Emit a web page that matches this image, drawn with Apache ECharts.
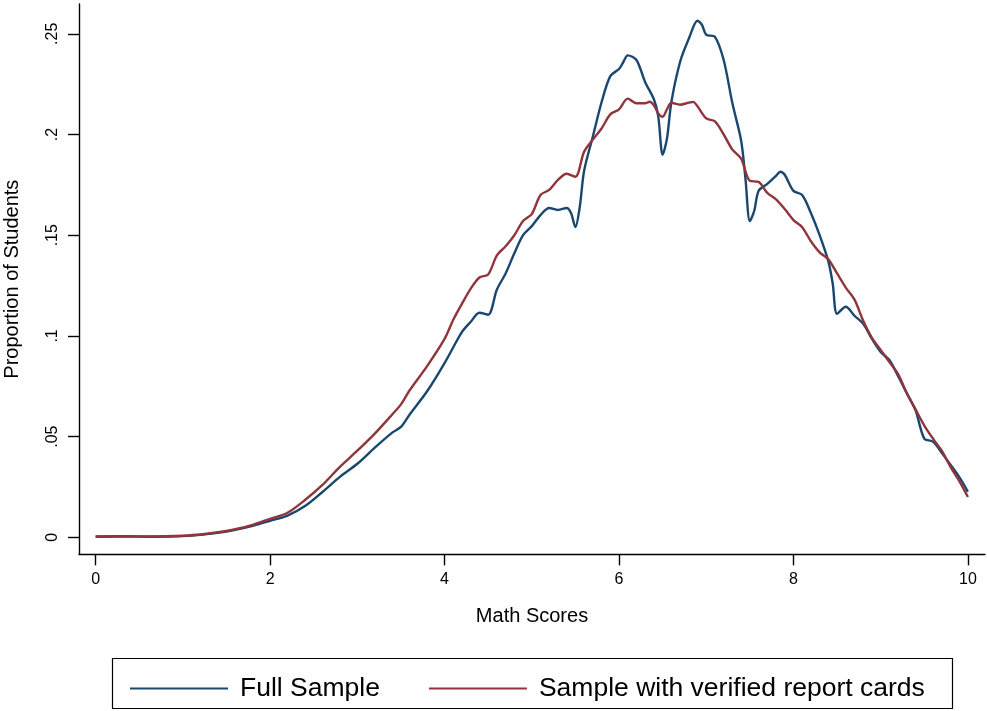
<!DOCTYPE html>
<html><head><meta charset="utf-8">
<script src="https://cdn.jsdelivr.net/npm/echarts@6/dist/echarts.min.js"></script>
<style>html,body{margin:0;padding:0;background:#fff}#c{width:987px;height:711px}</style>
</head><body><div id="c"></div>
<script>
const xTicks = [0, 2, 4, 6, 8, 10];
const yTicks = [0, 0.05, 0.1, 0.15, 0.2, 0.25];
const yTickLabels = ['0', '.05', '.1', '.15', '.2', '.25'];

const fullX = [0,0.2,0.4,0.6,0.8,1.0,1.2,1.4,1.6,1.8,2.0,2.2,2.4,2.6,2.8,3.0,3.2,3.4,3.5,3.6,3.8,4.0,4.2,4.3,4.4,4.5,4.6,4.7,4.8,4.9,5.0,5.1,5.2,5.3,5.4,5.45,5.5,5.55,5.6,5.7,5.8,5.9,6.0,6.05,6.1,6.2,6.3,6.4,6.45,6.5,6.55,6.6,6.7,6.8,6.9,6.95,7.0,7.1,7.2,7.3,7.4,7.45,7.5,7.55,7.6,7.7,7.8,7.85,7.9,8.0,8.1,8.2,8.3,8.4,8.45,8.5,8.6,8.7,8.8,8.9,9.0,9.1,9.2,9.3,9.4,9.5,9.6,9.7,9.8,9.9,10.0];
const fullY = [0.0003,0.0004,0.0004,0.0003,0.0004,0.0006,0.0012,0.0022,0.0037,0.0057,0.0082,0.0108,0.0155,0.0225,0.030,0.0365,0.0445,0.052,0.0548,0.061,0.0725,0.0865,0.102,0.107,0.1115,0.1105,0.123,0.131,0.141,0.150,0.1545,0.160,0.1635,0.1625,0.1635,0.161,0.154,0.164,0.182,0.199,0.216,0.229,0.2325,0.236,0.2393,0.237,0.226,0.2175,0.209,0.190,0.198,0.216,0.236,0.2475,0.2565,0.2545,0.2495,0.2485,0.237,0.2155,0.197,0.178,0.157,0.162,0.172,0.1755,0.1795,0.1815,0.180,0.172,0.170,0.161,0.150,0.137,0.126,0.111,0.1145,0.110,0.106,0.0985,0.092,0.088,0.080,0.0715,0.063,0.049,0.0475,0.042,0.036,0.030,0.0226];

const verX = [0,0.2,0.4,0.6,0.8,1.0,1.2,1.4,1.6,1.8,2.0,2.2,2.4,2.6,2.8,3.0,3.2,3.4,3.5,3.6,3.8,4.0,4.1,4.2,4.3,4.4,4.5,4.6,4.7,4.8,4.9,5.0,5.1,5.2,5.3,5.4,5.5,5.6,5.7,5.8,5.9,6.0,6.1,6.2,6.3,6.35,6.4,6.45,6.5,6.55,6.6,6.7,6.8,6.85,6.9,7.0,7.1,7.2,7.3,7.4,7.5,7.6,7.7,7.8,7.9,8.0,8.1,8.2,8.3,8.4,8.5,8.6,8.7,8.8,8.9,9.0,9.1,9.2,9.3,9.4,9.5,9.6,9.7,9.8,9.9,10.0];
const verY = [0.0004,0.0005,0.0005,0.0004,0.0005,0.0008,0.0014,0.0025,0.0040,0.0062,0.0092,0.0122,0.0185,0.026,0.035,0.043,0.0515,0.061,0.066,0.073,0.085,0.0985,0.108,0.116,0.1235,0.129,0.1305,0.140,0.1445,0.150,0.157,0.1605,0.170,0.1725,0.1775,0.1805,0.179,0.1915,0.1975,0.203,0.210,0.2125,0.2178,0.2155,0.2155,0.2163,0.2145,0.2105,0.2088,0.2125,0.2158,0.2148,0.2158,0.2162,0.214,0.208,0.2065,0.200,0.1925,0.188,0.177,0.1765,0.171,0.1678,0.163,0.1575,0.154,0.147,0.1415,0.138,0.131,0.124,0.118,0.1075,0.099,0.093,0.087,0.081,0.0715,0.0635,0.0555,0.049,0.043,0.035,0.028,0.020];

const seriesNames = ['Full Sample', 'Sample with verified report cards'];
const colors = ['#1a476f', '#90353b'];

const zip = (xs, ys) => xs.map((x, i) => [x, ys[i]]);
const font = 'Liberation Sans, Arial, Helvetica, sans-serif';

const chart = echarts.init(document.getElementById('c'), null, {renderer: 'canvas'});
chart.setOption({
  animation: false,
  backgroundColor: '#fff',
  textStyle: {fontFamily: font},
  grid: {left: 79, top: 4, width: 906, height: 550.3, containLabel: false, outerBoundsMode: 'none'},
  xAxis: {
    type: 'value', min: -0.191, max: 10.196,
    name: 'Math Scores', nameLocation: 'middle', nameGap: 52,
    nameTextStyle: {fontSize: 20, color: '#000', fontFamily: font},
    axisLine: {show: true, onZero: false, lineStyle: {color: '#000', width: 1.4}},
    axisTick: {show: true, length: 11, lineStyle: {color: '#000', width: 1.4}, customValues: xTicks},
    axisLabel: {fontSize: 16, color: '#000', margin: 17, customValues: xTicks, fontFamily: font},
    splitLine: {show: false}
  },
  yAxis: {
    type: 'value', min: -0.00844, max: 0.2648,
    name: 'Proportion of Students', nameLocation: 'middle', nameGap: 57,
    nameTextStyle: {fontSize: 20, color: '#000', fontFamily: font},
    axisLine: {show: true, onZero: false, lineStyle: {color: '#000', width: 1.4}},
    axisTick: {show: true, length: 11, lineStyle: {color: '#000', width: 1.4}, customValues: yTicks},
    axisLabel: {fontSize: 16, color: '#000', margin: 18, rotate: 90, customValues: yTicks, fontFamily: font,
      formatter: v => { const i = yTicks.findIndex(t => Math.abs(t - v) < 1e-9); return i >= 0 ? yTickLabels[i] : ''; }},
    splitLine: {show: false}
  },
  legend: {
    left: 125, top: 670,
    icon: 'rect', itemWidth: 98, itemHeight: 2, itemGap: 49,
    textStyle: {fontSize: 26.5, color: '#000', fontFamily: font, padding: [0, 0, 0, 7], lineHeight: 26},
    data: seriesNames
  },
  graphic: [{
    type: 'rect', shape: {x: 112.5, y: 658.5, width: 840, height: 50},
    style: {fill: 'none', stroke: '#000', lineWidth: 1.2}, silent: true
  }],
  series: [
    {name: seriesNames[0], type: 'line', data: zip(fullX, fullY), smooth: 0.3, showSymbol: false, symbol: 'none',
     lineStyle: {color: colors[0], width: 2.4}, itemStyle: {color: colors[0]}},
    {name: seriesNames[1], type: 'line', data: zip(verX, verY), smooth: 0.3, showSymbol: false, symbol: 'none',
     lineStyle: {color: colors[1], width: 2.4}, itemStyle: {color: colors[1]}}
  ]
});
</script></body></html>
